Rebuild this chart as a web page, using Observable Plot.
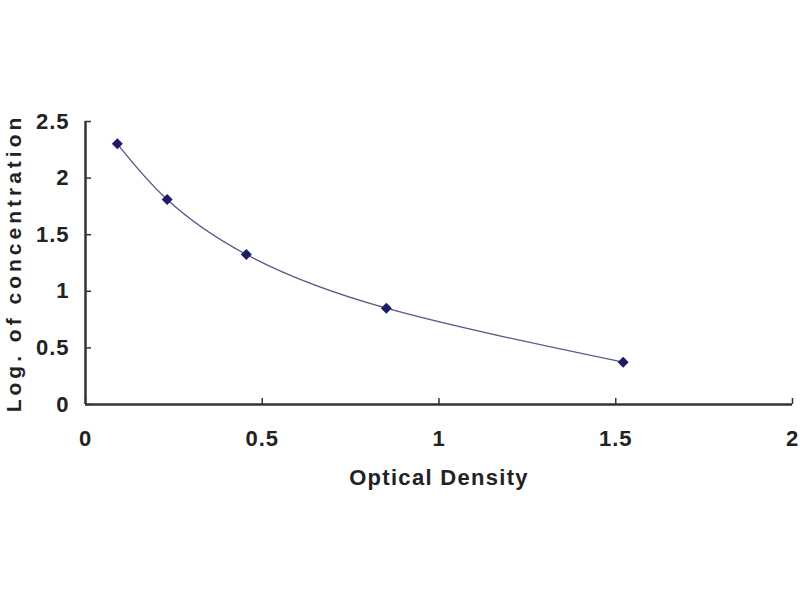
<!DOCTYPE html>
<html>
<head>
<meta charset="utf-8">
<script src="https://cdn.jsdelivr.net/npm/d3@7"></script>
<script src="https://cdn.jsdelivr.net/npm/@observablehq/plot@0.6"></script>
<style>
  html, body { margin: 0; padding: 0; background: #fff; }
  #chart { width: 800px; height: 600px; }
</style>
</head>
<body>
<div id="chart"></div>
<script>
// Standard curve: optical density vs log of concentration.
const opticalDensity = [0.09, 0.231, 0.455, 0.851, 1.521];
const logConcentration = [2.303, 1.811, 1.325, 0.851, 0.374];
const xTicks = [0, 0.5, 1, 1.5, 2];
const yTicks = [0, 0.5, 1, 1.5, 2, 2.5];

const points = opticalDensity.map(function (od, i) {
  return { od: od, logc: logConcentration[i] };
});

const ink = "#333333";
const textInk = "#222222";
const lineColor = "#55558a";
const markColor = "#1c1c6b";
const font = "'Liberation Sans', Arial, sans-serif";

const svg = Plot.plot({
  width: 800,
  height: 600,
  marginLeft: 85,
  marginRight: 8,
  marginTop: 121,
  marginBottom: 196,
  style: {
    background: "#fff",
    fontFamily: font,
    fontWeight: "bold",
    color: ink,
    overflow: "visible",
  },
  x: { domain: [0, 2], ticks: xTicks, label: null },
  y: { domain: [0, 2.5], ticks: yTicks, label: null },
  marks: [
    // inward tick marks, no text
    Plot.axisX({ ticks: xTicks, tickSize: -6, text: null, stroke: ink, strokeWidth: 1.5 }),
    Plot.axisY({ ticks: yTicks, tickSize: -6, text: null, stroke: ink, strokeWidth: 1.5 }),
    // tick labels
    Plot.axisX({
      ticks: xTicks, tickSize: 0, tickPadding: 26, fill: textInk, fontSize: 22,
      tickFormat: function (d) { return String(d); },
    }),
    Plot.axisY({
      ticks: yTicks, tickSize: 0, tickPadding: 16, fill: textInk, fontSize: 22,
      tickFormat: function (d) { return String(d); },
    }),
    Plot.ruleY([0], { stroke: ink, strokeWidth: 2.5 }),
    Plot.ruleX([0], { stroke: ink, strokeWidth: 2.5 }),
    Plot.line(points, { x: "od", y: "logc", curve: "natural", stroke: lineColor, strokeWidth: 1.3 }),
    Plot.dot(points, { x: "od", y: "logc", symbol: "diamond2", r: 4, fill: markColor, stroke: markColor }),
    // axis titles
    Plot.text(["Optical Density"], {
      frameAnchor: "bottom", lineAnchor: "middle", dy: 73, fill: textInk, fontSize: 22, fontWeight: "bold",
    }),
    Plot.text(["Log. of concentration"], {
      frameAnchor: "left", textAnchor: "middle", lineAnchor: "middle", dx: -71, rotate: -90,
      fill: textInk, fontSize: 21, fontWeight: "bold",
    }),
  ],
});

svg.querySelectorAll("text").forEach(function (t) {
  if (t.textContent === "Log. of concentration") t.setAttribute("letter-spacing", "4");
  else if (t.textContent === "Optical Density") t.setAttribute("letter-spacing", "1.3");
  else t.setAttribute("letter-spacing", "1");
});

document.getElementById("chart").appendChild(svg);
</script>
</body>
</html>
